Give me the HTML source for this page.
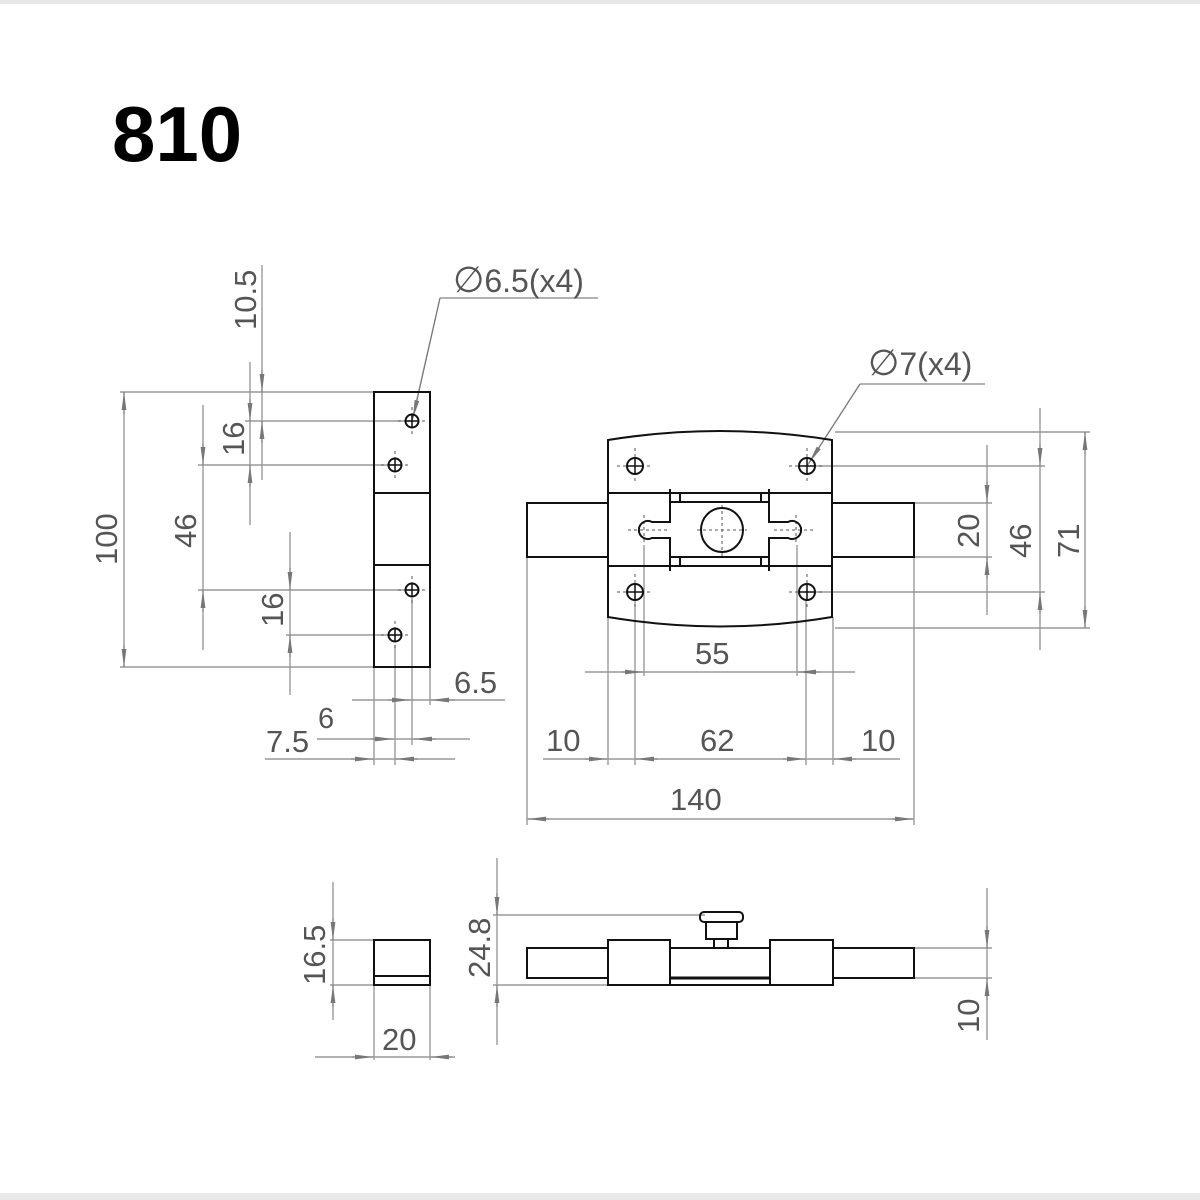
<!DOCTYPE html>
<html><head><meta charset="utf-8"><style>
html,body{margin:0;padding:0;background:#fff;}
svg{display:block}
.t{font-family:"Liberation Sans",sans-serif;fill:#555;font-size:31px}
</style></head><body>
<svg width="1200" height="1200" viewBox="0 0 1200 1200" xmlns="http://www.w3.org/2000/svg">
<defs>
<marker id="a" viewBox="0 0 18 6" refX="18" refY="3" markerWidth="18" markerHeight="6" markerUnits="userSpaceOnUse" orient="auto"><path d="M0,0.6 L18,3 L0,5.4z" fill="#777"/></marker>
</defs>
<rect x="0" y="0" width="1200" height="4" fill="#e8e8e8"/>
<rect x="0" y="1193" width="1200" height="7" fill="#e8e8e8"/>
<text x="112" y="161" style="font-family:'Liberation Sans',sans-serif;font-weight:bold;font-size:78px;fill:#000">810</text>

<g stroke="#999" stroke-width="1.4" fill="none">
<line x1="120" y1="392" x2="374" y2="392"/>
<line x1="120" y1="667" x2="374" y2="667"/>
<line x1="245" y1="421" x2="412" y2="421"/>
<line x1="198" y1="465" x2="395" y2="465"/>
<line x1="198" y1="590" x2="412" y2="590"/>
<line x1="286" y1="635" x2="395" y2="635"/>
<line x1="124" y1="392" x2="124" y2="667"/>
<line x1="203" y1="405" x2="203" y2="650"/>
<line x1="262" y1="265" x2="262" y2="480"/>
<line x1="250" y1="362" x2="250" y2="525"/>
<line x1="290" y1="532" x2="290" y2="695"/>
<line x1="430" y1="667" x2="430" y2="705"/>
<line x1="412" y1="598" x2="412" y2="745"/>
<line x1="395" y1="645" x2="395" y2="765"/>
<line x1="374" y1="667" x2="374" y2="765"/>
<line x1="352" y1="700" x2="505" y2="700"/>
<line x1="317" y1="739" x2="470" y2="739"/>
<line x1="265" y1="759" x2="455" y2="759"/>
<line x1="412" y1="421" x2="440" y2="298"/>
<line x1="440" y1="298" x2="598" y2="298"/>
<line x1="807" y1="466" x2="860" y2="384"/>
<line x1="860" y1="384" x2="985" y2="384"/>
<line x1="835" y1="432" x2="1090" y2="432"/>
<line x1="835" y1="628" x2="1090" y2="628"/>
<line x1="815" y1="466" x2="1045" y2="466"/>
<line x1="815" y1="592" x2="1045" y2="592"/>
<line x1="914" y1="503" x2="992" y2="503"/>
<line x1="914" y1="557" x2="992" y2="557"/>
<line x1="1085" y1="432" x2="1085" y2="628"/>
<line x1="1040" y1="408" x2="1040" y2="650"/>
<line x1="987" y1="445" x2="987" y2="615"/>
<line x1="527" y1="557" x2="527" y2="825"/>
<line x1="914" y1="557" x2="914" y2="825"/>
<line x1="608" y1="617" x2="608" y2="765"/>
<line x1="833" y1="617" x2="833" y2="765"/>
<line x1="635" y1="600" x2="635" y2="765"/>
<line x1="806" y1="600" x2="806" y2="765"/>
<line x1="644" y1="545" x2="644" y2="676"/>
<line x1="797" y1="545" x2="797" y2="676"/>
<line x1="585" y1="672" x2="855" y2="672"/>
<line x1="543" y1="759" x2="900" y2="759"/>
<line x1="527" y1="819" x2="914" y2="819"/>
<line x1="330" y1="940" x2="374" y2="940"/>
<line x1="330" y1="985" x2="374" y2="985"/>
<line x1="333" y1="882" x2="333" y2="1020"/>
<line x1="374" y1="985" x2="374" y2="1060"/>
<line x1="430" y1="985" x2="430" y2="1060"/>
<line x1="315" y1="1057" x2="455" y2="1057"/>
<line x1="493" y1="915" x2="705" y2="915"/>
<line x1="493" y1="985" x2="608" y2="985"/>
<line x1="497" y1="858" x2="497" y2="1045"/>
<line x1="914" y1="948" x2="992" y2="948"/>
<line x1="914" y1="978" x2="992" y2="978"/>
<line x1="987" y1="888" x2="987" y2="1040"/>
</g>

<g stroke="#777" stroke-width="1" marker-end="url(#a)">
<line x1="262" y1="370" x2="262" y2="392"/>
<line x1="262" y1="443" x2="262" y2="421"/>
<line x1="250" y1="399" x2="250" y2="421"/>
<line x1="250" y1="487" x2="250" y2="465"/>
<line x1="203" y1="443" x2="203" y2="465"/>
<line x1="203" y1="612" x2="203" y2="590"/>
<line x1="124" y1="414" x2="124" y2="392"/>
<line x1="124" y1="645" x2="124" y2="667"/>
<line x1="290" y1="568" x2="290" y2="590"/>
<line x1="290" y1="657" x2="290" y2="635"/>
<line x1="388" y1="700" x2="410" y2="700"/>
<line x1="455" y1="700" x2="431" y2="700"/>
<line x1="371" y1="739" x2="393" y2="739"/>
<line x1="436" y1="739" x2="414" y2="739"/>
<line x1="351" y1="759" x2="373" y2="759"/>
<line x1="418" y1="759" x2="396" y2="759"/>
<line x1="1085" y1="454" x2="1085" y2="432"/>
<line x1="1085" y1="606" x2="1085" y2="628"/>
<line x1="1040" y1="444" x2="1040" y2="466"/>
<line x1="1040" y1="614" x2="1040" y2="592"/>
<line x1="987" y1="481" x2="987" y2="503"/>
<line x1="987" y1="579" x2="987" y2="557"/>
<line x1="621" y1="672" x2="643" y2="672"/>
<line x1="820" y1="672" x2="798" y2="672"/>
<line x1="585" y1="759" x2="607" y2="759"/>
<line x1="658" y1="759" x2="636" y2="759"/>
<line x1="783" y1="759" x2="805" y2="759"/>
<line x1="856" y1="759" x2="834" y2="759"/>
<line x1="549" y1="819" x2="528" y2="819"/>
<line x1="892" y1="819" x2="913" y2="819"/>
<line x1="333" y1="918" x2="333" y2="940"/>
<line x1="333" y1="1007" x2="333" y2="985"/>
<line x1="352" y1="1057" x2="373" y2="1057"/>
<line x1="452" y1="1057" x2="431" y2="1057"/>
<line x1="497" y1="893" x2="497" y2="915"/>
<line x1="497" y1="1007" x2="497" y2="985"/>
<line x1="987" y1="926" x2="987" y2="948"/>
<line x1="987" y1="1000" x2="987" y2="978"/>
<line x1="440" y1="298" x2="413" y2="418"/>
<line x1="860" y1="384" x2="809" y2="463"/>
</g>

<g stroke="#555" stroke-width="1" stroke-dasharray="3,3" fill="none">
<line x1="398" y1="421" x2="426" y2="421"/><line x1="412" y1="407" x2="412" y2="435"/>
<line x1="381" y1="465" x2="409" y2="465"/><line x1="395" y1="451" x2="395" y2="479"/>
<line x1="398" y1="590" x2="426" y2="590"/><line x1="412" y1="576" x2="412" y2="604"/>
<line x1="381" y1="635" x2="409" y2="635"/><line x1="395" y1="621" x2="395" y2="649"/>
<line x1="617" y1="466" x2="653" y2="466"/><line x1="635" y1="448" x2="635" y2="484"/>
<line x1="789" y1="466" x2="825" y2="466"/><line x1="807" y1="448" x2="807" y2="484"/>
<line x1="617" y1="592" x2="653" y2="592"/><line x1="635" y1="574" x2="635" y2="610"/>
<line x1="789" y1="592" x2="825" y2="592"/><line x1="807" y1="574" x2="807" y2="610"/>
<line x1="628" y1="530" x2="668" y2="530"/><line x1="644" y1="515" x2="644" y2="545"/>
<line x1="774" y1="530" x2="814" y2="530"/><line x1="796" y1="515" x2="796" y2="545"/>
<line x1="697" y1="530" x2="747" y2="530"/><line x1="722" y1="505" x2="722" y2="556"/>
</g>

<g stroke="#111" stroke-width="2" fill="none">
<rect x="374" y="392" width="56" height="275"/>
<line x1="374" y1="493" x2="430" y2="493"/>
<line x1="374" y1="565" x2="430" y2="565"/>
<circle cx="412" cy="421" r="6.5"/><circle cx="395" cy="465" r="6.5"/>
<circle cx="412" cy="590" r="6.5"/><circle cx="395" cy="635" r="6.5"/>
<path d="M405,421h14M412,414v14M388,465h14M395,458v14M405,590h14M412,583v14M388,635h14M395,628v14" stroke-width="1.5"/>

<path d="M608,440 Q720,422 832,440 L832,617 Q720,636 608,617 Z"/>
<line x1="608" y1="493" x2="832" y2="493"/>
<line x1="608" y1="566" x2="832" y2="566"/>
<path d="M608,503 L527,503 L527,557 L608,557"/>
<path d="M832,503 L914,503 L914,557 L832,557"/>
<circle cx="635" cy="466" r="8"/><circle cx="807" cy="466" r="8"/>
<circle cx="635" cy="592" r="8"/><circle cx="807" cy="592" r="8"/>
<path d="M627,466h16M635,458v16M799,466h16M807,458v16M627,592h16M635,584v16M799,592h16M807,584v16" stroke-width="1.5"/>
<path d="M670,489 L670,522 L652,522 A9,9 0 1 0 652,538 L670,538 L670,571"/>
<rect x="670" y="493" width="10" height="9"/>
<rect x="670" y="557" width="10" height="9"/>
<line x1="680" y1="502" x2="763" y2="502"/>
<line x1="680" y1="557" x2="763" y2="557"/>
<path d="M769,489 L769,522 L788,522 A9,9 0 1 1 788,538 L769,538 L769,571"/>
<rect x="761" y="493" width="8" height="9"/>
<rect x="761" y="557" width="8" height="9"/>
<ellipse cx="722" cy="530" rx="21" ry="22"/>

<rect x="374" y="940" width="56" height="45"/>
<line x1="374" y1="976" x2="430" y2="976"/>
<rect x="527" y="948" width="387" height="30" fill="#fff"/>
<rect x="608" y="940" width="62" height="45" fill="#fff"/>
<rect x="770" y="940" width="63" height="45" fill="#fff"/>
<line x1="670" y1="985" x2="770" y2="985"/>
<line x1="670" y1="978" x2="770" y2="978" stroke-width="3"/>
<rect x="700" y="912" width="43" height="10" rx="4"/>
<rect x="706" y="922" width="31" height="17"/>
<rect x="714" y="939" width="14" height="9"/>
</g>

<g class="t">
<text x="453" y="292" font-size="32"><tspan font-size="36">∅</tspan>6.5(x4)</text>
<text x="868" y="375" font-size="32"><tspan font-size="36">∅</tspan>7(x4)</text>
<text x="454" y="693">6.5</text>
<text x="318" y="728" font-size="29">6</text>
<text x="266" y="752">7.5</text>
<text x="695" y="664">55</text>
<text x="546" y="751">10</text>
<text x="700" y="751">62</text>
<text x="861" y="751">10</text>
<text x="670" y="810">140</text>
<text x="382" y="1050">20</text>
<text transform="translate(117,565) rotate(-90)">100</text>
<text transform="translate(196,548) rotate(-90)">46</text>
<text transform="translate(256,330) rotate(-90)">10.5</text>
<text transform="translate(244,456) rotate(-90)">16</text>
<text transform="translate(283,627) rotate(-90)">16</text>
<text transform="translate(979,548) rotate(-90)">20</text>
<text transform="translate(1031,558) rotate(-90)">46</text>
<text transform="translate(1079,558) rotate(-90)">71</text>
<text transform="translate(325,985) rotate(-90)">16.5</text>
<text transform="translate(490,978) rotate(-90)">24.8</text>
<text transform="translate(979,1033) rotate(-90)">10</text>
</g>
</svg>
</body></html>
